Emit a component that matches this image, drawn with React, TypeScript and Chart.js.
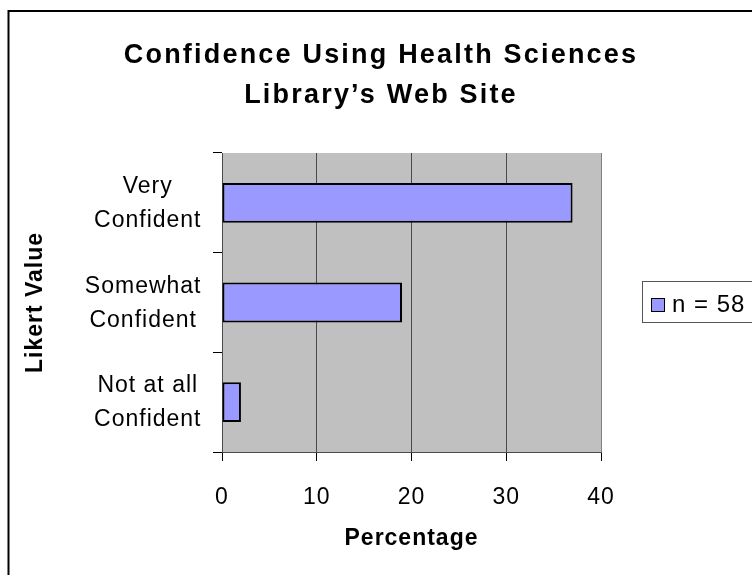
import { useEffect, useRef } from 'react';
import { Chart, registerables } from 'chart.js';

Chart.register(...registerables);

const categories: string[][] = [
  ['Very', 'Confident'],
  ['Somewhat', 'Confident'],
  ['Not at all', 'Confident'],
];
const seriesLabel = 'n = 58';
const values = [37, 19, 2];
const xMin = 0;
const xMax = 40;
const xStep = 10;
const titleLines = ['Confidence Using Health Sciences', 'Library\u2019s Web Site'];
const xTitle = 'Percentage';
const yTitle = 'Likert Value';

const FONT = "'Liberation Sans', Arial, sans-serif";

const decor = {
  id: 'decor',
  beforeLayout(chart: any) {
    chart.ctx.letterSpacing = '1px';
  },
  beforeDraw(chart: any) {
    const { ctx, chartArea: a } = chart;
    ctx.letterSpacing = '1px';
    ctx.save();
    ctx.fillStyle = '#ffffff';
    ctx.fillRect(0, 0, chart.width, chart.height);
    ctx.fillStyle = '#C0C0C0';
    ctx.fillRect(a.left, a.top, a.right - a.left, a.bottom - a.top);
    ctx.restore();
  },
  afterDraw(chart: any) {
    const { ctx } = chart;
    ctx.save();
    // outer frame
    ctx.strokeStyle = '#000';
    ctx.lineWidth = 2;
    ctx.strokeRect(8.5, 11, 1000, 1000);

    // title
    ctx.fillStyle = '#000';
    ctx.font = `bold 27px ${FONT}`;
    ctx.letterSpacing = '2.2px';
    ctx.textAlign = 'center';
    ctx.textBaseline = 'alphabetic';
    ctx.fillText(titleLines[0], 381, 63);
    ctx.fillText(titleLines[1], 381, 103);

    // y category labels
    ctx.font = `23px ${FONT}`;
    ctx.letterSpacing = '1px';
    const yScale = chart.scales.y;
    const labels = chart.data.labels as string[][];
    labels.forEach((lines, i) => {
      const cy = yScale.getPixelForTick(i);
      const w = Math.max(...lines.map((l) => ctx.measureText(l).width));
      const cx = 201 - w / 2;
      lines.forEach((l, j) => {
        ctx.fillText(l, cx + 0.5, cy - 10 + j * 34);
      });
    });

    // legend
    const ds = chart.data.datasets[0];
    ctx.strokeStyle = '#555';
    ctx.lineWidth = 1;
    ctx.strokeRect(642.5, 281.5, 200, 41);
    ctx.fillStyle = ds.backgroundColor;
    ctx.fillRect(651, 298, 13, 13);
    ctx.strokeStyle = '#000';
    ctx.strokeRect(651.5, 298.5, 13, 13);
    ctx.fillStyle = '#000';
    ctx.textAlign = 'left';
    ctx.font = `24px ${FONT}`;
    ctx.fillText(ds.label, 672, 312);
    ctx.restore();
  },
};

export default function App() {
  const ref = useRef<HTMLCanvasElement | null>(null);
  useEffect(() => {
    if (!ref.current) return;
    const chart = new Chart(ref.current, {
      type: 'bar',
      data: {
        labels: categories as any,
        datasets: [
          {
            label: seriesLabel,
            data: values,
            backgroundColor: '#9999FF',
            borderColor: '#000000',
            borderWidth: 2,
            borderSkipped: false,
            barPercentage: 0.4,
            categoryPercentage: 1,
          },
        ],
      },
      options: {
        indexAxis: 'y',
        animation: false,
        responsive: false,
        maintainAspectRatio: false,
        events: [],
        layout: { padding: { left: 0, top: 153, right: 151, bottom: 0 } },
        plugins: {
          legend: { display: false },
          title: { display: false },
          tooltip: { enabled: false },
        },
        scales: {
          x: {
            type: 'linear',
            min: xMin,
            max: xMax,
            afterFit: (s: any) => {
              s.height = 123;
            },
            ticks: {
              stepSize: xStep,
              color: '#000',
              font: { family: FONT, size: 23 },
              padding: 23,
              maxRotation: 0,
            },
            grid: {
              color: (c: any) => (c.tick && c.tick.value === xMax ? '#808080' : '#4a4a4a'),
              lineWidth: 1,
              tickLength: 9,
              tickColor: '#000',
            },
            border: { color: '#4a4a4a', width: 1 },
            title: {
              display: true,
              text: xTitle,
              color: '#000',
              font: { family: FONT, size: 23, weight: 'bold' },
              padding: { top: 0, bottom: 23 },
            },
          },
          y: {
            type: 'category',
            afterFit: (s: any) => {
              s.width = 222;
            },
            ticks: { display: false },
            grid: {
              offset: true,
              drawOnChartArea: false,
              drawTicks: true,
              tickLength: 9,
              tickColor: '#000',
            },
            border: { color: '#4a4a4a', width: 1 },
            title: {
              display: true,
              text: yTitle,
              color: '#000',
              font: { family: FONT, size: 23, weight: 'bold' },
              padding: { top: 22, bottom: 0 },
            },
          },
        },
      },
      plugins: [decor],
    });
    return () => chart.destroy();
  }, []);
  return (
    <div style={{ position: 'absolute', left: 0, top: 0, width: 752, height: 575, background: '#fff' }}>
      <canvas ref={ref} width={752} height={575} style={{ display: 'block' }} />
    </div>
  );
}
